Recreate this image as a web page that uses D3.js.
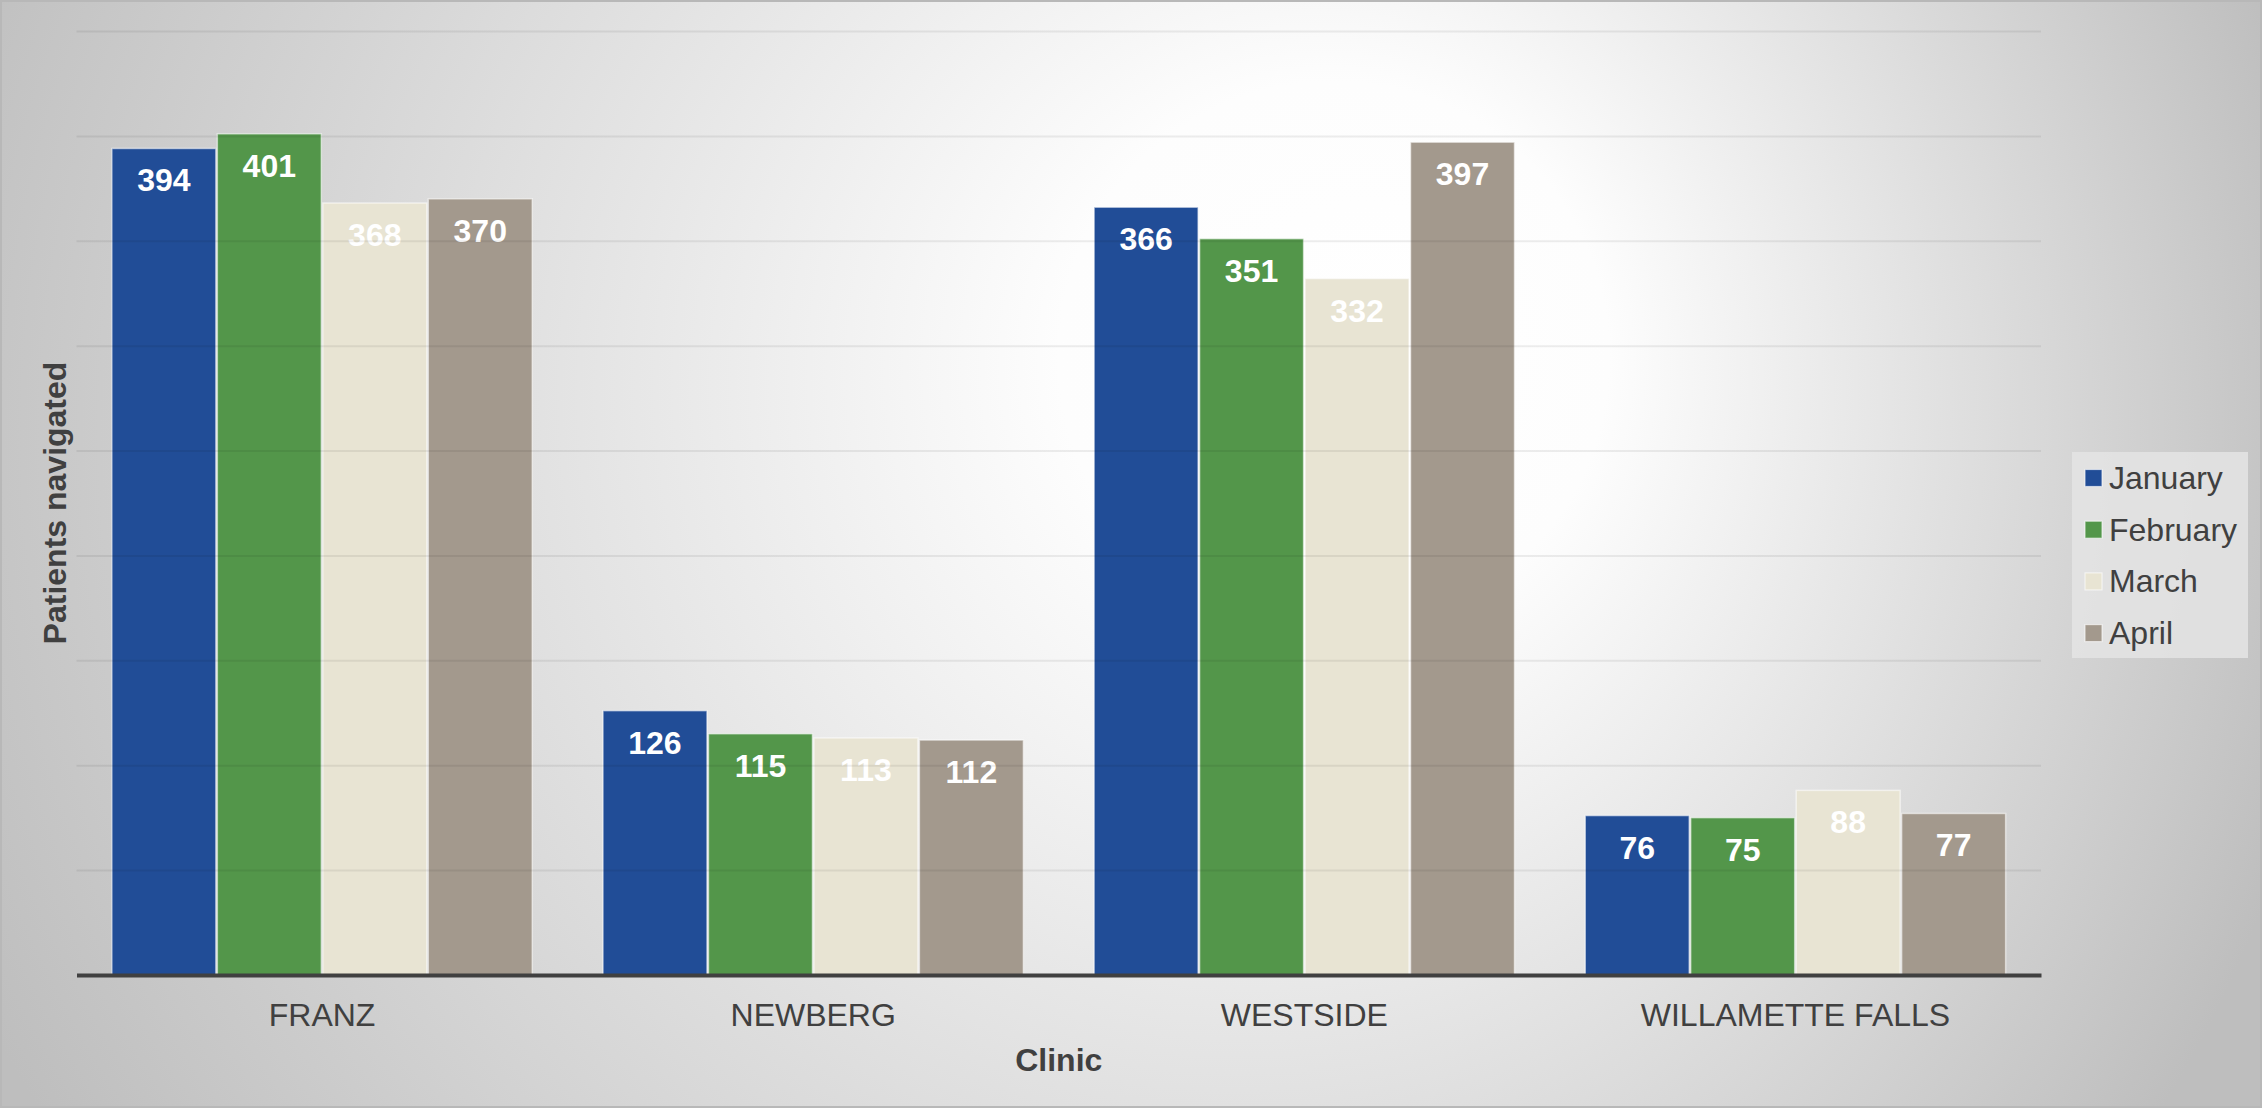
<!DOCTYPE html>
<html><head><meta charset="utf-8">
<script src="https://cdn.jsdelivr.net/npm/d3@7"></script>
<style>html,body{margin:0;padding:0;background:#fff;}svg{display:block;font-family:"Liberation Sans",Arial,sans-serif;}</style>
</head><body>
<script>
const clinics = ["FRANZ", "NEWBERG", "WESTSIDE", "WILLAMETTE FALLS"];
const months = ["January", "February", "March", "April"];
const january = [394, 126, 366, 76];
const february = [401, 115, 351, 75];
const march = [368, 113, 332, 88];
const april = [370, 112, 397, 77];
const yTicks = [0, 50, 100, 150, 200, 250, 300, 350, 400, 450];
const colors = ["#214D97", "#53964A", "#E8E4D3", "#A3998D"];

(function () {
const series = [january, february, march, april];
const W = 2262, H = 1108;
const pL = 76.5, pR = 2041, pT = 31, pB = 975;

const svg = d3.select("body").append("svg").attr("width", W).attr("height", H);
const defs = svg.append("defs");
const bg = defs.append("radialGradient").attr("id", "bg")
  .attr("gradientUnits", "userSpaceOnUse")
  .attr("cx", 1100).attr("cy", 450).attr("r", 1250)
  .attr("fx", 1400).attr("fy", 330);
bg.append("stop").attr("offset", 0).attr("stop-color", "#ffffff");
bg.append("stop").attr("offset", 0.22).attr("stop-color", "#fdfdfd");
bg.append("stop").attr("offset", 1).attr("stop-color", "#bebebe");
const gg = defs.append("linearGradient").attr("id", "grid")
  .attr("gradientUnits", "userSpaceOnUse").attr("x1", 0).attr("y1", pT).attr("x2", 0).attr("y2", pB);
gg.append("stop").attr("offset", 0).attr("stop-color", "#000").attr("stop-opacity", 0.07);
gg.append("stop").attr("offset", 1).attr("stop-color", "#000").attr("stop-opacity", 0.33);

svg.append("rect").attr("x", 0).attr("y", 0).attr("width", W).attr("height", H).attr("fill", "url(#bg)");
svg.append("rect").attr("x", 1).attr("y", 1).attr("width", W - 2).attr("height", H - 2)
  .attr("fill", "none").attr("stroke", "#b8b8b8").attr("stroke-width", 2);

const y = d3.scaleLinear().domain([0, 450]).range([pB, pT]);
const x0 = d3.scaleBand().domain(clinics).range([pL, pR]).paddingInner(0.141).paddingOuter(0.0705);
const x1 = d3.scaleBand().domain(months).range([0, x0.bandwidth()]).padding(0);

const rows = (c, i) => months.map((m, j) => ({m, j, v: series[j][i]}));

// bars
const groups = svg.append("g").selectAll("g").data(clinics).join("g")
  .attr("transform", d => `translate(${x0(d)},0)`);
groups.selectAll("rect").data(rows)
  .join("rect")
  .attr("x", d => x1(d.m) + 0.75)
  .attr("width", x1.bandwidth() - 1.5)
  .attr("y", d => y(d.v))
  .attr("height", d => y(0) - y(d.v))
  .attr("fill", d => colors[d.j])
  .attr("stroke", "rgba(255,255,255,0.55)")
  .attr("stroke-width", 1.5);

// gridlines on top (translucent)
const gridAxis = d3.axisLeft(y).tickValues(yTicks.filter(t => t > 0)).tickSize(-(pR - pL)).tickFormat("");
const grid = svg.append("g").attr("transform", `translate(${pL},0)`).call(gridAxis);
grid.select(".domain").remove();
grid.selectAll("line").attr("stroke", "url(#grid)").attr("stroke-width", 2);

// value labels
groups.selectAll("text").data(rows)
  .join("text")
  .attr("x", d => x1(d.m) + x1.bandwidth() / 2)
  .attr("y", d => y(d.v) + 43)
  .attr("text-anchor", "middle")
  .attr("font-size", 32).attr("font-weight", "bold").attr("fill", "#ffffff")
  .text(d => d.v);

// x axis
const xAxis = d3.axisBottom(x0).tickSize(0).tickPadding(28);
const xa = svg.append("g").attr("transform", `translate(0,${pB})`).call(xAxis);
xa.select(".domain").attr("stroke", "#404040").attr("stroke-width", 4);
xa.selectAll("text").attr("font-size", 32).attr("fill", "#404040").attr("font-family", "Liberation Sans, Arial, sans-serif");

svg.append("text").attr("x", (pL + pR) / 2).attr("y", 1071).attr("text-anchor", "middle")
  .attr("font-size", 32).attr("font-weight", "bold").attr("fill", "#404040").text("Clinic");
svg.append("text").attr("transform", `translate(66,${(pT + pB) / 2}) rotate(-90)`).attr("text-anchor", "middle")
  .attr("font-size", 32).attr("font-weight", "bold").attr("fill", "#404040").text("Patients navigated");

// legend
const lg = svg.append("g");
lg.append("rect").attr("x", 2072).attr("y", 452).attr("width", 176).attr("height", 206)
  .attr("fill", "#e4e4e4").attr("opacity", 0.85);
const items = lg.selectAll("g").data(months).join("g")
  .attr("transform", (d, i) => `translate(2085,${478 + i * 51.7})`);
items.append("rect").attr("x", 0).attr("y", -8.5).attr("width", 17).attr("height", 17)
  .attr("fill", (d, i) => colors[i]).attr("stroke", "rgba(255,255,255,0.6)").attr("stroke-width", 1.2);
items.append("text").attr("x", 24).attr("y", 11).attr("font-size", 32).attr("fill", "#404040").text(d => d);
})();
</script>
</body></html>
